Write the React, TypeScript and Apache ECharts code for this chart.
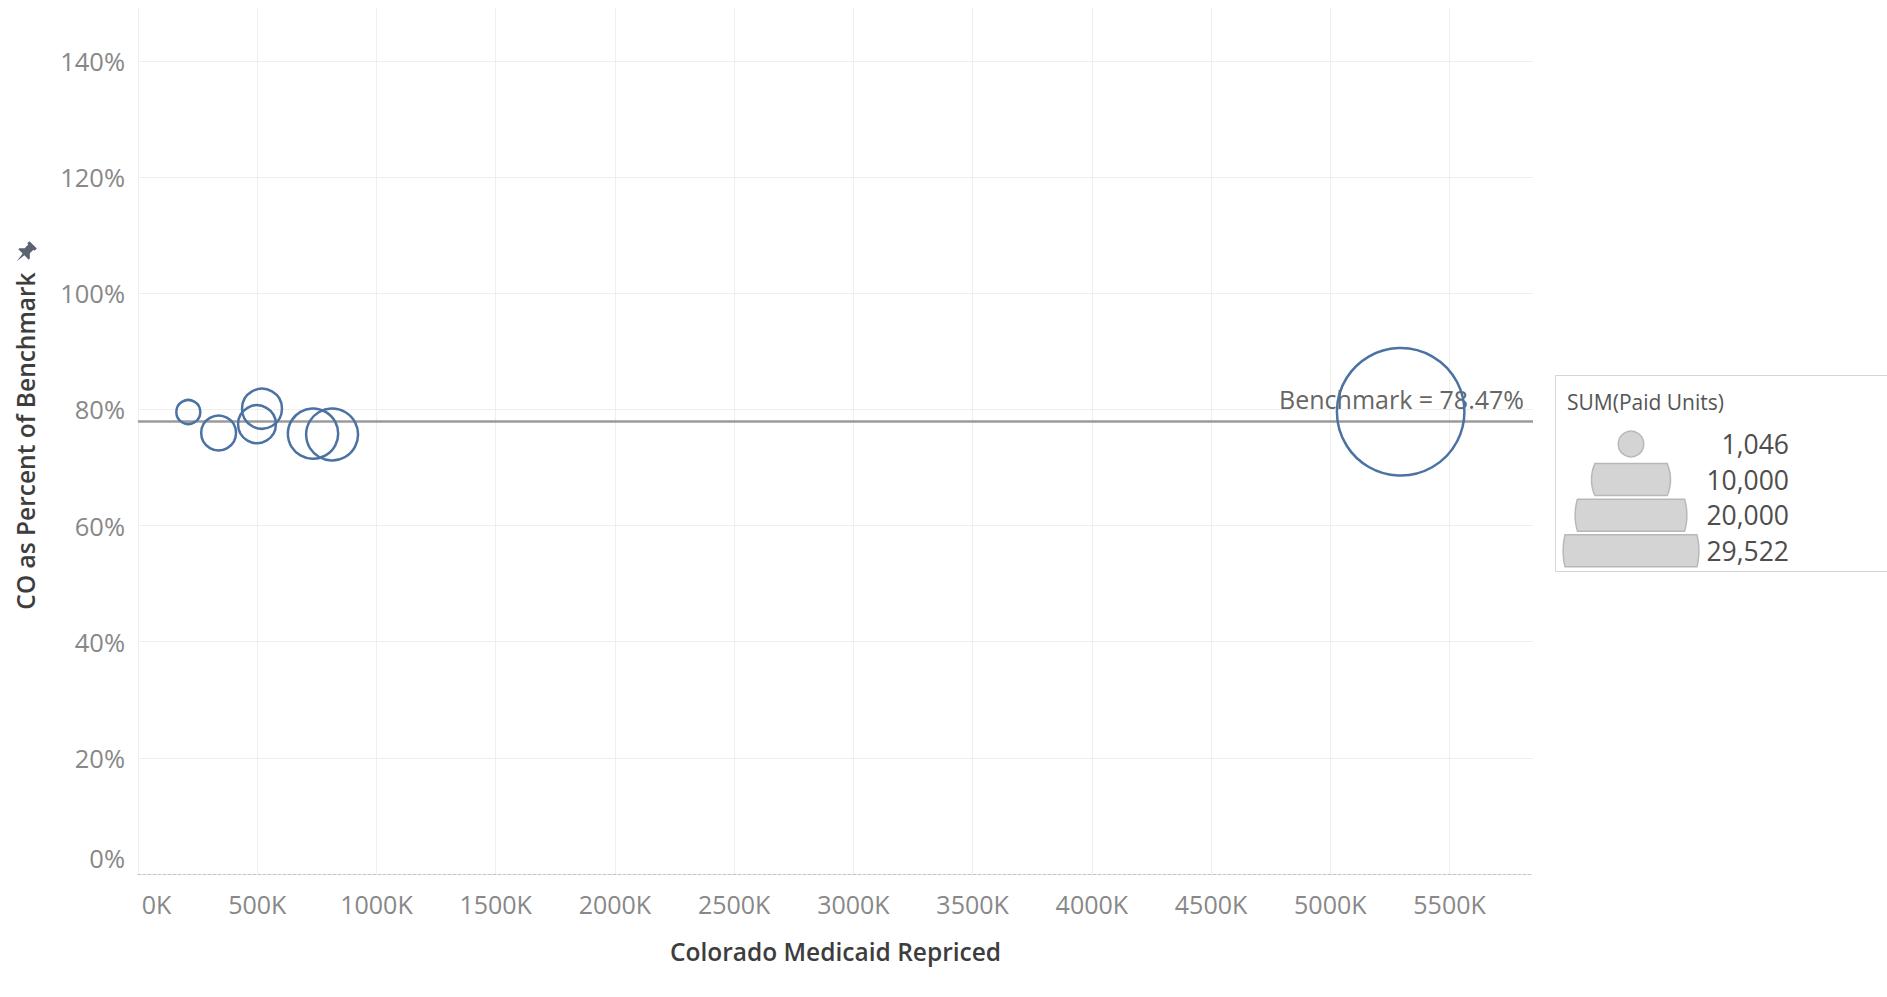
import { useEffect, useRef } from 'react';
import * as echarts from 'echarts';

// ---- data ----
const repriced = [211000, 338000, 520000, 499000, 734000, 814000, 5295000];
const pctOfBenchmark = [0.7956, 0.7594, 0.8013, 0.7746, 0.7583, 0.7568, 0.796];
const paidUnits = [1046, 2200, 2900, 2600, 4600, 4900, 29522];
const benchmark = 0.7847;
const legendValues = [1046, 10000, 20000, 29522];
const xTitle = 'Colorado Medicaid Repriced';
const yTitle = 'CO as Percent of Benchmark';
const legendTitle = 'SUM(Paid Units)';

const FONT = '"Open Sans", "Noto Sans", sans-serif';
const SIZE_K = 0.742; // diameter per sqrt(unit)
const LEGEND_K = 0.395; // legend radius per sqrt(unit)

const PIN_D =
  'M-5,-11 L5,-11 L5,-8 L3.5,-8 L3.5,-3 L7,0.5 L7,2 L1.2,2 L0,11 L-1.2,2 L-7,2 L-7,0.5 L-3.5,-3 L-3.5,-8 L-5,-8 Z';
let pinRegistered = false;

function clippedCircle(cx: number, cy: number, r: number, halfH: number): number[][] {
  const pts: number[][] = [];
  const a = Math.asin(Math.min(1, halfH / r));
  const n = 24;
  for (let i = 0; i <= n; i++) {
    const t = -a + (2 * a * i) / n;
    pts.push([cx + r * Math.cos(t), cy + r * Math.sin(t)]);
  }
  for (let i = 0; i <= n; i++) {
    const t = Math.PI - a + (2 * a * i) / n;
    pts.push([cx + r * Math.cos(t), cy + r * Math.sin(t)]);
  }
  return pts;
}

export default function App() {
  const ref = useRef<HTMLDivElement>(null);

  useEffect(() => {
    if (!ref.current) return;
    if (!pinRegistered) {
      echarts.graphic.registerShape('pin', echarts.graphic.extendPath(PIN_D, {}));
      pinRegistered = true;
    }
    const chart = echarts.init(ref.current, undefined, { renderer: 'svg' });

    const legendX = 1631;
    const legendTop = 444;
    const rowH = 35.6;
    const halfBand = 16;
    const legendEls: any[] = [
      {
        type: 'rect',
        shape: { x: 1555.5, y: 375.5, width: 345, height: 196 },
        style: { fill: '#fff', stroke: '#d6d6d6', lineWidth: 1 },
      },
      {
        type: 'text',
        x: 1567,
        y: 402,
        style: {
          text: legendTitle,
          font: `21px ${FONT}`,
          fill: '#555',
          verticalAlign: 'middle',
          align: 'left',
        },
      },
    ];
    legendValues.forEach((v, i) => {
      const cy = legendTop + rowH * i;
      const r = LEGEND_K * Math.sqrt(v);
      if (r <= halfBand) {
        legendEls.push({
          type: 'circle',
          shape: { cx: legendX, cy, r },
          style: { fill: '#d4d4d4', stroke: '#b8b8b8', lineWidth: 1.5 },
        });
      } else {
        legendEls.push({
          type: 'polygon',
          shape: { points: clippedCircle(legendX, cy, r, halfBand) },
          style: { fill: '#d4d4d4', stroke: '#b8b8b8', lineWidth: 1.5 },
        });
      }
      legendEls.push({
        type: 'text',
        x: 1789,
        y: cy,
        style: {
          text: v.toLocaleString('en-US'),
          font: `26.5px ${FONT}`,
          fill: '#4d4d4d',
          align: 'right',
          verticalAlign: 'middle',
        },
      });
    });

    const option: any = {
      animation: false,
      backgroundColor: '#ffffff',
      textStyle: { fontFamily: FONT },
      grid: { left: 138, right: 354, top: 8, bottom: 123, containLabel: false },
      xAxis: {
        type: 'value',
        min: 0,
        max: 5850000,
        interval: 500000,
        name: xTitle,
        nameLocation: 'middle',
        nameGap: 65,
        nameTextStyle: { fontSize: 24.5, fontWeight: 600, color: '#3d3d3d', fontFamily: FONT },
        axisLine: {
          show: true,
          onZero: true,
          lineStyle: { color: '#c2c2c2', type: [3, 2], width: 1 },
        },
        axisTick: { show: false },
        axisLabel: {
          margin: 17.5,
          fontSize: 25,
          color: '#888',
          fontFamily: FONT,
          showMaxLabel: false,
          formatter: (v: number) => (v === 0 ? '{first|0K}' : `${Math.round(v / 1000)}K`),
          rich: { first: { fontSize: 25, color: '#888', fontFamily: FONT, padding: [0, 0, 0, 37] } },
        },
        splitLine: { show: true, showMaxLine: false, lineStyle: { color: '#efefef', width: 1 } },
      },
      yAxis: {
        type: 'value',
        min: 0,
        max: 1.4913,
        interval: 0.2,
        name: yTitle,
        nameLocation: 'middle',
        nameGap: 100,
        nameRotate: 90,
        nameTextStyle: { fontSize: 24.5, fontWeight: 600, color: '#3d3d3d', fontFamily: FONT },
        axisLine: { show: false },
        axisTick: { show: false },
        axisLabel: {
          margin: 13,
          fontSize: 25.5,
          color: '#888',
          fontFamily: FONT,
          showMaxLabel: false,
          formatter: (v: number) => (v === 0 ? '{z|0%}' : `${Math.round(v * 100)}%`),
          rich: { z: { fontSize: 25.5, color: '#888', fontFamily: FONT, padding: [0, 0, 32, 0] } },
        },
        splitLine: {
          show: true,
          showMaxLine: false,
          showMinLine: false,
          lineStyle: { color: '#efefef', width: 1 },
        },
      },
      series: [
        {
          type: 'scatter',
          data: repriced.map((x, i) => [x, pctOfBenchmark[i], paidUnits[i]]),
          symbol: 'circle',
          symbolSize: (d: number[]) => SIZE_K * Math.sqrt(d[2]),
          itemStyle: { color: 'rgba(0,0,0,0)', borderColor: '#4b72a3', borderWidth: 2.5, opacity: 1 },
          z: 3,
          markLine: {
            silent: true,
            symbol: 'none',
            z: 2,
            data: [{ yAxis: benchmark }],
            lineStyle: { color: '#9b9b9b', width: 2.5, type: 'solid' },
            label: {
              show: true,
              position: 'insideEndTop',
              formatter: `Benchmark = ${(benchmark * 100).toFixed(2)}%`,
              fontSize: 25,
              color: '#666',
              fontFamily: FONT,
              distance: [9, 10],
            },
            emphasis: { disabled: true },
          },
        },
      ],
      graphic: [
        ...legendEls,
        {
          type: 'pin',
          x: 25,
          y: 253,
          rotation: -Math.PI / 4,
          scaleX: 1.05,
          scaleY: 1.05,
          style: { fill: '#5b6372' },
        },
      ],
    };

    chart.setOption(option);
    return () => chart.dispose();
  }, []);

  return (
    <div
      ref={ref}
      style={{ position: 'absolute', left: 0, top: 0, width: '1887px', height: '997px', background: '#fff' }}
    />
  );
}
